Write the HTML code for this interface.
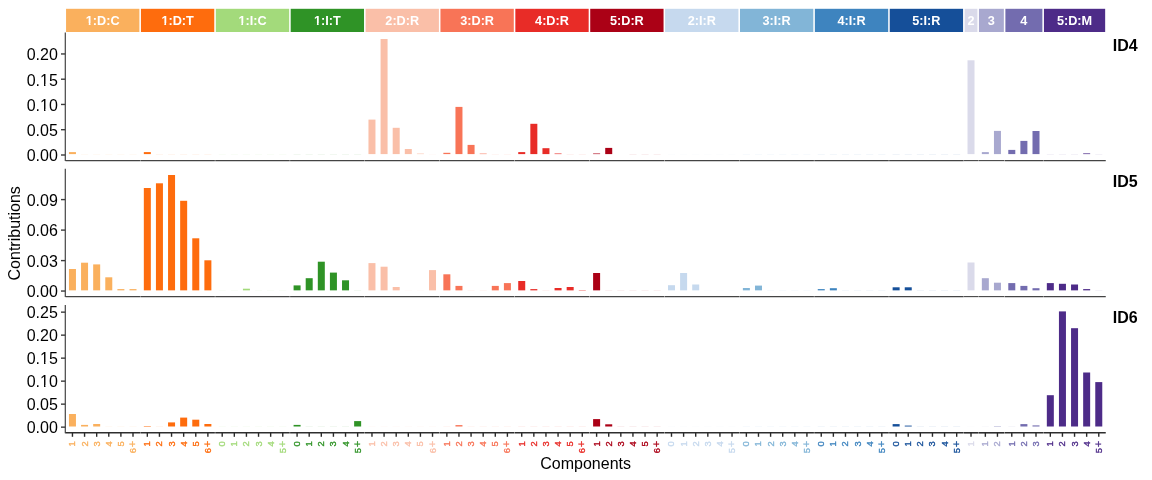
<!DOCTYPE html><html><head><meta charset="utf-8"><style>html,body{margin:0;padding:0;background:#fff;width:1152px;height:480px;overflow:hidden}svg{display:block;will-change:transform}text{font-family:"Liberation Sans",sans-serif}</style></head><body>
<svg width="1152" height="480" viewBox="0 0 1152 480">
<rect width="1152" height="480" fill="#fff"/>
<rect x="66.06" y="8.8" width="73.33" height="23.2" fill="#FAB05D"/>
<text x="102.72" y="24.6" fill="#fff" font-size="12.7" font-weight="bold" text-anchor="middle">1:D:C</text>
<rect x="85.99" y="23.00" width="2.76" height="2.30" fill="#FAB05D"/>
<rect x="90.50" y="23.00" width="2.60" height="2.30" fill="#FAB05D"/>
<rect x="140.94" y="8.8" width="73.33" height="23.2" fill="#FE6C0D"/>
<text x="177.60" y="24.6" fill="#fff" font-size="12.7" font-weight="bold" text-anchor="middle">1:D:T</text>
<rect x="161.58" y="23.00" width="2.76" height="2.30" fill="#FE6C0D"/>
<rect x="166.09" y="23.00" width="2.60" height="2.30" fill="#FE6C0D"/>
<rect x="215.82" y="8.8" width="73.33" height="23.2" fill="#A3DA7B"/>
<text x="252.48" y="24.6" fill="#fff" font-size="12.7" font-weight="bold" text-anchor="middle">1:I:C</text>
<rect x="238.57" y="23.00" width="2.76" height="2.30" fill="#A3DA7B"/>
<rect x="243.08" y="23.00" width="2.60" height="2.30" fill="#A3DA7B"/>
<rect x="290.70" y="8.8" width="73.33" height="23.2" fill="#2F9326"/>
<text x="327.37" y="24.6" fill="#fff" font-size="12.7" font-weight="bold" text-anchor="middle">1:I:T</text>
<rect x="314.16" y="23.00" width="2.76" height="2.30" fill="#2F9326"/>
<rect x="318.67" y="23.00" width="2.60" height="2.30" fill="#2F9326"/>
<rect x="365.58" y="8.8" width="73.33" height="23.2" fill="#FABFA8"/>
<text x="402.25" y="24.6" fill="#fff" font-size="12.7" font-weight="bold" text-anchor="middle">2:D:R</text>
<rect x="440.46" y="8.8" width="73.33" height="23.2" fill="#F87457"/>
<text x="477.12" y="24.6" fill="#fff" font-size="12.7" font-weight="bold" text-anchor="middle">3:D:R</text>
<rect x="515.34" y="8.8" width="73.33" height="23.2" fill="#E82C27"/>
<text x="552.00" y="24.6" fill="#fff" font-size="12.7" font-weight="bold" text-anchor="middle">4:D:R</text>
<rect x="590.22" y="8.8" width="73.33" height="23.2" fill="#AB0116"/>
<text x="626.88" y="24.6" fill="#fff" font-size="12.7" font-weight="bold" text-anchor="middle">5:D:R</text>
<rect x="665.10" y="8.8" width="73.33" height="23.2" fill="#C6D9EE"/>
<text x="701.76" y="24.6" fill="#fff" font-size="12.7" font-weight="bold" text-anchor="middle">2:I:R</text>
<rect x="739.98" y="8.8" width="73.33" height="23.2" fill="#82B5D7"/>
<text x="776.64" y="24.6" fill="#fff" font-size="12.7" font-weight="bold" text-anchor="middle">3:I:R</text>
<rect x="814.86" y="8.8" width="73.33" height="23.2" fill="#3E84BF"/>
<text x="851.52" y="24.6" fill="#fff" font-size="12.7" font-weight="bold" text-anchor="middle">4:I:R</text>
<rect x="889.74" y="8.8" width="73.33" height="23.2" fill="#154F99"/>
<text x="926.40" y="24.6" fill="#fff" font-size="12.7" font-weight="bold" text-anchor="middle">5:I:R</text>
<rect x="964.62" y="8.8" width="12.78" height="23.2" fill="#DADAEA"/>
<text x="971.01" y="24.6" fill="#fff" font-size="12.7" font-weight="bold" text-anchor="middle">2</text>
<rect x="978.95" y="8.8" width="24.89" height="23.2" fill="#A8A8CF"/>
<text x="991.39" y="24.6" fill="#fff" font-size="12.7" font-weight="bold" text-anchor="middle">3</text>
<rect x="1005.39" y="8.8" width="37.00" height="23.2" fill="#736CAF"/>
<text x="1023.89" y="24.6" fill="#fff" font-size="12.7" font-weight="bold" text-anchor="middle">4</text>
<rect x="1043.94" y="8.8" width="61.22" height="23.2" fill="#4D2B88"/>
<text x="1074.55" y="24.6" fill="#fff" font-size="12.7" font-weight="bold" text-anchor="middle">5:D:M</text>
<rect x="68.95" y="152.10" width="7.0" height="2.00" fill="#FAB05D"/>
<rect x="81.06" y="154.10" width="7.0" height="0.5" fill="#FAB05D" opacity="0.13"/>
<rect x="93.17" y="154.10" width="7.0" height="0.5" fill="#FAB05D" opacity="0.13"/>
<rect x="105.28" y="154.10" width="7.0" height="0.5" fill="#FAB05D" opacity="0.13"/>
<rect x="117.39" y="154.10" width="7.0" height="0.5" fill="#FAB05D" opacity="0.13"/>
<rect x="129.50" y="154.10" width="7.0" height="0.5" fill="#FAB05D" opacity="0.13"/>
<rect x="143.83" y="152.10" width="7.0" height="2.00" fill="#FE6C0D"/>
<rect x="155.94" y="154.10" width="7.0" height="0.5" fill="#FE6C0D" opacity="0.13"/>
<rect x="168.05" y="154.10" width="7.0" height="0.5" fill="#FE6C0D" opacity="0.13"/>
<rect x="180.16" y="154.10" width="7.0" height="0.5" fill="#FE6C0D" opacity="0.13"/>
<rect x="192.27" y="154.10" width="7.0" height="0.5" fill="#FE6C0D" opacity="0.13"/>
<rect x="204.38" y="154.10" width="7.0" height="0.5" fill="#FE6C0D" opacity="0.13"/>
<rect x="218.71" y="154.10" width="7.0" height="0.5" fill="#A3DA7B" opacity="0.13"/>
<rect x="230.82" y="154.10" width="7.0" height="0.5" fill="#A3DA7B" opacity="0.13"/>
<rect x="242.93" y="154.10" width="7.0" height="0.5" fill="#A3DA7B" opacity="0.13"/>
<rect x="255.04" y="154.10" width="7.0" height="0.5" fill="#A3DA7B" opacity="0.13"/>
<rect x="267.15" y="154.10" width="7.0" height="0.5" fill="#A3DA7B" opacity="0.13"/>
<rect x="279.26" y="154.10" width="7.0" height="0.5" fill="#A3DA7B" opacity="0.13"/>
<rect x="293.59" y="154.10" width="7.0" height="0.5" fill="#2F9326" opacity="0.13"/>
<rect x="305.70" y="154.10" width="7.0" height="0.5" fill="#2F9326" opacity="0.13"/>
<rect x="317.81" y="154.10" width="7.0" height="0.5" fill="#2F9326" opacity="0.13"/>
<rect x="329.92" y="154.10" width="7.0" height="0.5" fill="#2F9326" opacity="0.13"/>
<rect x="342.03" y="154.10" width="7.0" height="0.5" fill="#2F9326" opacity="0.13"/>
<rect x="354.14" y="154.10" width="7.0" height="0.5" fill="#2F9326" opacity="0.13"/>
<rect x="368.47" y="119.60" width="7.0" height="34.50" fill="#FABFA8"/>
<rect x="380.58" y="39.00" width="7.0" height="115.10" fill="#FABFA8"/>
<rect x="392.69" y="127.80" width="7.0" height="26.30" fill="#FABFA8"/>
<rect x="404.80" y="149.00" width="7.0" height="5.10" fill="#FABFA8"/>
<rect x="416.91" y="153.60" width="7.0" height="0.50" fill="#FABFA8"/>
<rect x="429.02" y="154.10" width="7.0" height="0.5" fill="#FABFA8" opacity="0.13"/>
<rect x="443.35" y="152.80" width="7.0" height="1.30" fill="#F87457"/>
<rect x="455.46" y="106.90" width="7.0" height="47.20" fill="#F87457"/>
<rect x="467.57" y="144.90" width="7.0" height="9.20" fill="#F87457"/>
<rect x="479.68" y="153.60" width="7.0" height="0.50" fill="#F87457"/>
<rect x="491.79" y="154.10" width="7.0" height="0.5" fill="#F87457" opacity="0.13"/>
<rect x="503.90" y="154.10" width="7.0" height="0.5" fill="#F87457" opacity="0.13"/>
<rect x="518.23" y="152.10" width="7.0" height="2.00" fill="#E82C27"/>
<rect x="530.34" y="123.80" width="7.0" height="30.30" fill="#E82C27"/>
<rect x="542.45" y="148.20" width="7.0" height="5.90" fill="#E82C27"/>
<rect x="554.56" y="153.50" width="7.0" height="0.60" fill="#E82C27"/>
<rect x="566.67" y="154.10" width="7.0" height="0.5" fill="#E82C27" opacity="0.13"/>
<rect x="578.78" y="154.10" width="7.0" height="0.5" fill="#E82C27" opacity="0.13"/>
<rect x="593.11" y="153.50" width="7.0" height="0.60" fill="#AB0116"/>
<rect x="605.22" y="147.90" width="7.0" height="6.20" fill="#AB0116"/>
<rect x="617.33" y="154.30" width="7.0" height="-0.20" fill="#AB0116"/>
<rect x="629.44" y="154.10" width="7.0" height="0.5" fill="#AB0116" opacity="0.13"/>
<rect x="641.55" y="154.10" width="7.0" height="0.5" fill="#AB0116" opacity="0.13"/>
<rect x="653.66" y="154.10" width="7.0" height="0.5" fill="#AB0116" opacity="0.13"/>
<rect x="667.99" y="154.10" width="7.0" height="0.5" fill="#C6D9EE" opacity="0.13"/>
<rect x="680.10" y="154.10" width="7.0" height="0.5" fill="#C6D9EE" opacity="0.13"/>
<rect x="692.21" y="154.10" width="7.0" height="0.5" fill="#C6D9EE" opacity="0.13"/>
<rect x="704.32" y="154.10" width="7.0" height="0.5" fill="#C6D9EE" opacity="0.13"/>
<rect x="716.43" y="154.10" width="7.0" height="0.5" fill="#C6D9EE" opacity="0.13"/>
<rect x="728.54" y="154.10" width="7.0" height="0.5" fill="#C6D9EE" opacity="0.13"/>
<rect x="742.87" y="154.10" width="7.0" height="0.5" fill="#82B5D7" opacity="0.13"/>
<rect x="754.98" y="154.10" width="7.0" height="0.5" fill="#82B5D7" opacity="0.13"/>
<rect x="767.09" y="154.10" width="7.0" height="0.5" fill="#82B5D7" opacity="0.13"/>
<rect x="779.20" y="154.10" width="7.0" height="0.5" fill="#82B5D7" opacity="0.13"/>
<rect x="791.31" y="154.10" width="7.0" height="0.5" fill="#82B5D7" opacity="0.13"/>
<rect x="803.42" y="154.10" width="7.0" height="0.5" fill="#82B5D7" opacity="0.13"/>
<rect x="817.75" y="154.10" width="7.0" height="0.5" fill="#3E84BF" opacity="0.13"/>
<rect x="829.86" y="154.10" width="7.0" height="0.5" fill="#3E84BF" opacity="0.13"/>
<rect x="841.97" y="154.10" width="7.0" height="0.5" fill="#3E84BF" opacity="0.13"/>
<rect x="854.08" y="154.10" width="7.0" height="0.5" fill="#3E84BF" opacity="0.13"/>
<rect x="866.19" y="154.10" width="7.0" height="0.5" fill="#3E84BF" opacity="0.13"/>
<rect x="878.30" y="154.10" width="7.0" height="0.5" fill="#3E84BF" opacity="0.13"/>
<rect x="892.63" y="154.10" width="7.0" height="0.5" fill="#154F99" opacity="0.13"/>
<rect x="904.74" y="154.10" width="7.0" height="0.5" fill="#154F99" opacity="0.13"/>
<rect x="916.85" y="154.10" width="7.0" height="0.5" fill="#154F99" opacity="0.13"/>
<rect x="928.96" y="154.10" width="7.0" height="0.5" fill="#154F99" opacity="0.13"/>
<rect x="941.07" y="154.10" width="7.0" height="0.5" fill="#154F99" opacity="0.13"/>
<rect x="953.18" y="154.10" width="7.0" height="0.5" fill="#154F99" opacity="0.13"/>
<rect x="967.51" y="60.30" width="7.0" height="93.80" fill="#DADAEA"/>
<rect x="981.84" y="152.10" width="7.0" height="2.00" fill="#A8A8CF"/>
<rect x="993.95" y="130.90" width="7.0" height="23.20" fill="#A8A8CF"/>
<rect x="1008.28" y="149.90" width="7.0" height="4.20" fill="#736CAF"/>
<rect x="1020.39" y="140.90" width="7.0" height="13.20" fill="#736CAF"/>
<rect x="1032.50" y="131.00" width="7.0" height="23.10" fill="#736CAF"/>
<rect x="1046.83" y="154.10" width="7.0" height="0.5" fill="#4D2B88" opacity="0.13"/>
<rect x="1058.94" y="154.10" width="7.0" height="0.5" fill="#4D2B88" opacity="0.13"/>
<rect x="1071.05" y="154.10" width="7.0" height="0.5" fill="#4D2B88" opacity="0.13"/>
<rect x="1083.16" y="153.40" width="7.0" height="0.70" fill="#4D2B88"/>
<rect x="1095.27" y="154.10" width="7.0" height="0.5" fill="#4D2B88" opacity="0.13"/>
<rect x="68.95" y="269.00" width="7.0" height="21.35" fill="#FAB05D"/>
<rect x="81.06" y="262.70" width="7.0" height="27.65" fill="#FAB05D"/>
<rect x="93.17" y="264.40" width="7.0" height="25.95" fill="#FAB05D"/>
<rect x="105.28" y="277.30" width="7.0" height="13.05" fill="#FAB05D"/>
<rect x="117.39" y="289.10" width="7.0" height="1.25" fill="#FAB05D"/>
<rect x="129.50" y="289.10" width="7.0" height="1.25" fill="#FAB05D"/>
<rect x="143.83" y="188.00" width="7.0" height="102.35" fill="#FE6C0D"/>
<rect x="155.94" y="183.30" width="7.0" height="107.05" fill="#FE6C0D"/>
<rect x="168.05" y="175.00" width="7.0" height="115.35" fill="#FE6C0D"/>
<rect x="180.16" y="200.80" width="7.0" height="89.55" fill="#FE6C0D"/>
<rect x="192.27" y="238.30" width="7.0" height="52.05" fill="#FE6C0D"/>
<rect x="204.38" y="260.30" width="7.0" height="30.05" fill="#FE6C0D"/>
<rect x="218.71" y="290.35" width="7.0" height="0.5" fill="#A3DA7B" opacity="0.13"/>
<rect x="230.82" y="290.35" width="7.0" height="0.5" fill="#A3DA7B" opacity="0.13"/>
<rect x="242.93" y="288.70" width="7.0" height="1.65" fill="#A3DA7B"/>
<rect x="255.04" y="290.35" width="7.0" height="0.5" fill="#A3DA7B" opacity="0.13"/>
<rect x="267.15" y="290.35" width="7.0" height="0.5" fill="#A3DA7B" opacity="0.13"/>
<rect x="279.26" y="290.35" width="7.0" height="0.5" fill="#A3DA7B" opacity="0.13"/>
<rect x="293.59" y="285.40" width="7.0" height="4.95" fill="#2F9326"/>
<rect x="305.70" y="278.20" width="7.0" height="12.15" fill="#2F9326"/>
<rect x="317.81" y="261.70" width="7.0" height="28.65" fill="#2F9326"/>
<rect x="329.92" y="272.60" width="7.0" height="17.75" fill="#2F9326"/>
<rect x="342.03" y="280.30" width="7.0" height="10.05" fill="#2F9326"/>
<rect x="354.14" y="290.35" width="7.0" height="0.5" fill="#2F9326" opacity="0.13"/>
<rect x="368.47" y="263.10" width="7.0" height="27.25" fill="#FABFA8"/>
<rect x="380.58" y="266.70" width="7.0" height="23.65" fill="#FABFA8"/>
<rect x="392.69" y="287.00" width="7.0" height="3.35" fill="#FABFA8"/>
<rect x="404.80" y="290.35" width="7.0" height="0.5" fill="#FABFA8" opacity="0.13"/>
<rect x="416.91" y="290.35" width="7.0" height="0.5" fill="#FABFA8" opacity="0.13"/>
<rect x="429.02" y="270.10" width="7.0" height="20.25" fill="#FABFA8"/>
<rect x="443.35" y="274.30" width="7.0" height="16.05" fill="#F87457"/>
<rect x="455.46" y="285.90" width="7.0" height="4.45" fill="#F87457"/>
<rect x="467.57" y="290.35" width="7.0" height="0.5" fill="#F87457" opacity="0.13"/>
<rect x="479.68" y="290.35" width="7.0" height="0.5" fill="#F87457" opacity="0.13"/>
<rect x="491.79" y="285.90" width="7.0" height="4.45" fill="#F87457"/>
<rect x="503.90" y="283.10" width="7.0" height="7.25" fill="#F87457"/>
<rect x="518.23" y="281.00" width="7.0" height="9.35" fill="#E82C27"/>
<rect x="530.34" y="289.10" width="7.0" height="1.25" fill="#E82C27"/>
<rect x="542.45" y="290.35" width="7.0" height="0.5" fill="#E82C27" opacity="0.13"/>
<rect x="554.56" y="288.00" width="7.0" height="2.35" fill="#E82C27"/>
<rect x="566.67" y="287.00" width="7.0" height="3.35" fill="#E82C27"/>
<rect x="578.78" y="290.00" width="7.0" height="0.35" fill="#E82C27"/>
<rect x="593.11" y="273.00" width="7.0" height="17.35" fill="#AB0116"/>
<rect x="605.22" y="290.35" width="7.0" height="0.5" fill="#AB0116" opacity="0.13"/>
<rect x="617.33" y="290.35" width="7.0" height="0.5" fill="#AB0116" opacity="0.13"/>
<rect x="629.44" y="290.35" width="7.0" height="0.5" fill="#AB0116" opacity="0.13"/>
<rect x="641.55" y="290.35" width="7.0" height="0.5" fill="#AB0116" opacity="0.13"/>
<rect x="653.66" y="290.35" width="7.0" height="0.5" fill="#AB0116" opacity="0.13"/>
<rect x="667.99" y="285.20" width="7.0" height="5.15" fill="#C6D9EE"/>
<rect x="680.10" y="273.00" width="7.0" height="17.35" fill="#C6D9EE"/>
<rect x="692.21" y="284.50" width="7.0" height="5.85" fill="#C6D9EE"/>
<rect x="704.32" y="290.35" width="7.0" height="0.5" fill="#C6D9EE" opacity="0.13"/>
<rect x="716.43" y="290.35" width="7.0" height="0.5" fill="#C6D9EE" opacity="0.13"/>
<rect x="728.54" y="290.35" width="7.0" height="0.5" fill="#C6D9EE" opacity="0.13"/>
<rect x="742.87" y="288.00" width="7.0" height="2.35" fill="#82B5D7"/>
<rect x="754.98" y="285.60" width="7.0" height="4.75" fill="#82B5D7"/>
<rect x="767.09" y="290.35" width="7.0" height="0.5" fill="#82B5D7" opacity="0.13"/>
<rect x="779.20" y="290.35" width="7.0" height="0.5" fill="#82B5D7" opacity="0.13"/>
<rect x="791.31" y="290.35" width="7.0" height="0.5" fill="#82B5D7" opacity="0.13"/>
<rect x="803.42" y="290.35" width="7.0" height="0.5" fill="#82B5D7" opacity="0.13"/>
<rect x="817.75" y="289.10" width="7.0" height="1.25" fill="#3E84BF"/>
<rect x="829.86" y="288.20" width="7.0" height="2.15" fill="#3E84BF"/>
<rect x="841.97" y="290.35" width="7.0" height="0.5" fill="#3E84BF" opacity="0.13"/>
<rect x="854.08" y="290.35" width="7.0" height="0.5" fill="#3E84BF" opacity="0.13"/>
<rect x="866.19" y="290.35" width="7.0" height="0.5" fill="#3E84BF" opacity="0.13"/>
<rect x="878.30" y="290.35" width="7.0" height="0.5" fill="#3E84BF" opacity="0.13"/>
<rect x="892.63" y="287.30" width="7.0" height="3.05" fill="#154F99"/>
<rect x="904.74" y="287.30" width="7.0" height="3.05" fill="#154F99"/>
<rect x="916.85" y="290.35" width="7.0" height="0.5" fill="#154F99" opacity="0.13"/>
<rect x="928.96" y="290.35" width="7.0" height="0.5" fill="#154F99" opacity="0.13"/>
<rect x="941.07" y="290.35" width="7.0" height="0.5" fill="#154F99" opacity="0.13"/>
<rect x="953.18" y="290.35" width="7.0" height="0.5" fill="#154F99" opacity="0.13"/>
<rect x="967.51" y="262.50" width="7.0" height="27.85" fill="#DADAEA"/>
<rect x="981.84" y="278.20" width="7.0" height="12.15" fill="#A8A8CF"/>
<rect x="993.95" y="282.70" width="7.0" height="7.65" fill="#A8A8CF"/>
<rect x="1008.28" y="283.10" width="7.0" height="7.25" fill="#736CAF"/>
<rect x="1020.39" y="285.90" width="7.0" height="4.45" fill="#736CAF"/>
<rect x="1032.50" y="288.20" width="7.0" height="2.15" fill="#736CAF"/>
<rect x="1046.83" y="283.10" width="7.0" height="7.25" fill="#4D2B88"/>
<rect x="1058.94" y="283.80" width="7.0" height="6.55" fill="#4D2B88"/>
<rect x="1071.05" y="284.50" width="7.0" height="5.85" fill="#4D2B88"/>
<rect x="1083.16" y="289.10" width="7.0" height="1.25" fill="#4D2B88"/>
<rect x="1095.27" y="290.35" width="7.0" height="0.5" fill="#4D2B88" opacity="0.13"/>
<rect x="68.95" y="414.00" width="7.0" height="12.50" fill="#FAB05D"/>
<rect x="81.06" y="424.90" width="7.0" height="1.60" fill="#FAB05D"/>
<rect x="93.17" y="424.00" width="7.0" height="2.50" fill="#FAB05D"/>
<rect x="105.28" y="426.50" width="7.0" height="0.5" fill="#FAB05D" opacity="0.13"/>
<rect x="117.39" y="426.50" width="7.0" height="0.5" fill="#FAB05D" opacity="0.13"/>
<rect x="129.50" y="426.50" width="7.0" height="0.5" fill="#FAB05D" opacity="0.13"/>
<rect x="143.83" y="426.00" width="7.0" height="0.50" fill="#FE6C0D"/>
<rect x="155.94" y="426.50" width="7.0" height="0.5" fill="#FE6C0D" opacity="0.13"/>
<rect x="168.05" y="422.40" width="7.0" height="4.10" fill="#FE6C0D"/>
<rect x="180.16" y="417.60" width="7.0" height="8.90" fill="#FE6C0D"/>
<rect x="192.27" y="419.70" width="7.0" height="6.80" fill="#FE6C0D"/>
<rect x="204.38" y="424.00" width="7.0" height="2.50" fill="#FE6C0D"/>
<rect x="218.71" y="426.50" width="7.0" height="0.5" fill="#A3DA7B" opacity="0.13"/>
<rect x="230.82" y="426.50" width="7.0" height="0.5" fill="#A3DA7B" opacity="0.13"/>
<rect x="242.93" y="426.50" width="7.0" height="0.5" fill="#A3DA7B" opacity="0.13"/>
<rect x="255.04" y="426.50" width="7.0" height="0.5" fill="#A3DA7B" opacity="0.13"/>
<rect x="267.15" y="426.50" width="7.0" height="0.5" fill="#A3DA7B" opacity="0.13"/>
<rect x="279.26" y="426.50" width="7.0" height="0.5" fill="#A3DA7B" opacity="0.13"/>
<rect x="293.59" y="424.90" width="7.0" height="1.60" fill="#2F9326"/>
<rect x="305.70" y="426.50" width="7.0" height="0.5" fill="#2F9326" opacity="0.13"/>
<rect x="317.81" y="426.50" width="7.0" height="0.5" fill="#2F9326" opacity="0.13"/>
<rect x="329.92" y="426.50" width="7.0" height="0.5" fill="#2F9326" opacity="0.13"/>
<rect x="342.03" y="426.50" width="7.0" height="0.5" fill="#2F9326" opacity="0.13"/>
<rect x="354.14" y="421.10" width="7.0" height="5.40" fill="#2F9326"/>
<rect x="368.47" y="426.50" width="7.0" height="0.5" fill="#FABFA8" opacity="0.13"/>
<rect x="380.58" y="426.50" width="7.0" height="0.5" fill="#FABFA8" opacity="0.13"/>
<rect x="392.69" y="426.50" width="7.0" height="0.5" fill="#FABFA8" opacity="0.13"/>
<rect x="404.80" y="426.50" width="7.0" height="0.5" fill="#FABFA8" opacity="0.13"/>
<rect x="416.91" y="426.50" width="7.0" height="0.5" fill="#FABFA8" opacity="0.13"/>
<rect x="429.02" y="426.50" width="7.0" height="0.5" fill="#FABFA8" opacity="0.13"/>
<rect x="443.35" y="426.50" width="7.0" height="0.5" fill="#F87457" opacity="0.13"/>
<rect x="455.46" y="425.10" width="7.0" height="1.40" fill="#F87457"/>
<rect x="467.57" y="426.50" width="7.0" height="0.5" fill="#F87457" opacity="0.13"/>
<rect x="479.68" y="426.50" width="7.0" height="0.5" fill="#F87457" opacity="0.13"/>
<rect x="491.79" y="426.50" width="7.0" height="0.5" fill="#F87457" opacity="0.13"/>
<rect x="503.90" y="426.50" width="7.0" height="0.5" fill="#F87457" opacity="0.13"/>
<rect x="518.23" y="426.50" width="7.0" height="0.5" fill="#E82C27" opacity="0.13"/>
<rect x="530.34" y="426.50" width="7.0" height="0.5" fill="#E82C27" opacity="0.13"/>
<rect x="542.45" y="426.50" width="7.0" height="0.5" fill="#E82C27" opacity="0.13"/>
<rect x="554.56" y="426.50" width="7.0" height="0.5" fill="#E82C27" opacity="0.13"/>
<rect x="566.67" y="426.50" width="7.0" height="0.5" fill="#E82C27" opacity="0.13"/>
<rect x="578.78" y="426.50" width="7.0" height="0.5" fill="#E82C27" opacity="0.13"/>
<rect x="593.11" y="419.10" width="7.0" height="7.40" fill="#AB0116"/>
<rect x="605.22" y="424.30" width="7.0" height="2.20" fill="#AB0116"/>
<rect x="617.33" y="426.50" width="7.0" height="0.5" fill="#AB0116" opacity="0.13"/>
<rect x="629.44" y="426.50" width="7.0" height="0.5" fill="#AB0116" opacity="0.13"/>
<rect x="641.55" y="426.50" width="7.0" height="0.5" fill="#AB0116" opacity="0.13"/>
<rect x="653.66" y="426.50" width="7.0" height="0.5" fill="#AB0116" opacity="0.13"/>
<rect x="667.99" y="426.50" width="7.0" height="0.5" fill="#C6D9EE" opacity="0.13"/>
<rect x="680.10" y="426.50" width="7.0" height="0.5" fill="#C6D9EE" opacity="0.13"/>
<rect x="692.21" y="426.50" width="7.0" height="0.5" fill="#C6D9EE" opacity="0.13"/>
<rect x="704.32" y="426.50" width="7.0" height="0.5" fill="#C6D9EE" opacity="0.13"/>
<rect x="716.43" y="426.50" width="7.0" height="0.5" fill="#C6D9EE" opacity="0.13"/>
<rect x="728.54" y="426.50" width="7.0" height="0.5" fill="#C6D9EE" opacity="0.13"/>
<rect x="742.87" y="426.50" width="7.0" height="0.5" fill="#82B5D7" opacity="0.13"/>
<rect x="754.98" y="426.50" width="7.0" height="0.5" fill="#82B5D7" opacity="0.13"/>
<rect x="767.09" y="426.50" width="7.0" height="0.5" fill="#82B5D7" opacity="0.13"/>
<rect x="779.20" y="426.50" width="7.0" height="0.5" fill="#82B5D7" opacity="0.13"/>
<rect x="791.31" y="426.50" width="7.0" height="0.5" fill="#82B5D7" opacity="0.13"/>
<rect x="803.42" y="426.50" width="7.0" height="0.5" fill="#82B5D7" opacity="0.13"/>
<rect x="817.75" y="426.50" width="7.0" height="0.5" fill="#3E84BF" opacity="0.13"/>
<rect x="829.86" y="426.50" width="7.0" height="0.5" fill="#3E84BF" opacity="0.13"/>
<rect x="841.97" y="426.50" width="7.0" height="0.5" fill="#3E84BF" opacity="0.13"/>
<rect x="854.08" y="426.50" width="7.0" height="0.5" fill="#3E84BF" opacity="0.13"/>
<rect x="866.19" y="426.50" width="7.0" height="0.5" fill="#3E84BF" opacity="0.13"/>
<rect x="878.30" y="426.50" width="7.0" height="0.5" fill="#3E84BF" opacity="0.13"/>
<rect x="892.63" y="424.10" width="7.0" height="2.40" fill="#154F99"/>
<rect x="904.74" y="425.60" width="7.0" height="0.90" fill="#154F99"/>
<rect x="916.85" y="426.50" width="7.0" height="0.5" fill="#154F99" opacity="0.13"/>
<rect x="928.96" y="426.50" width="7.0" height="0.5" fill="#154F99" opacity="0.13"/>
<rect x="941.07" y="426.50" width="7.0" height="0.5" fill="#154F99" opacity="0.13"/>
<rect x="953.18" y="426.50" width="7.0" height="0.5" fill="#154F99" opacity="0.13"/>
<rect x="967.51" y="426.50" width="7.0" height="0.5" fill="#DADAEA" opacity="0.13"/>
<rect x="981.84" y="426.50" width="7.0" height="0.5" fill="#A8A8CF" opacity="0.13"/>
<rect x="993.95" y="426.00" width="7.0" height="0.50" fill="#A8A8CF"/>
<rect x="1008.28" y="426.50" width="7.0" height="0.5" fill="#736CAF" opacity="0.13"/>
<rect x="1020.39" y="424.10" width="7.0" height="2.40" fill="#736CAF"/>
<rect x="1032.50" y="425.40" width="7.0" height="1.10" fill="#736CAF"/>
<rect x="1046.83" y="395.20" width="7.0" height="31.30" fill="#4D2B88"/>
<rect x="1058.94" y="311.40" width="7.0" height="115.10" fill="#4D2B88"/>
<rect x="1071.05" y="328.20" width="7.0" height="98.30" fill="#4D2B88"/>
<rect x="1083.16" y="372.50" width="7.0" height="54.00" fill="#4D2B88"/>
<rect x="1095.27" y="382.10" width="7.0" height="44.40" fill="#4D2B88"/>
<line x1="65.3" y1="32.6" x2="65.3" y2="161.1" stroke="#444" stroke-width="1.2"/>
<line x1="65.46" y1="160.60" x2="139.99" y2="160.60" stroke="#444" stroke-width="1.1"/>
<line x1="140.34" y1="160.60" x2="214.87" y2="160.60" stroke="#444" stroke-width="1.1"/>
<line x1="215.22" y1="160.60" x2="289.75" y2="160.60" stroke="#444" stroke-width="1.1"/>
<line x1="290.10" y1="160.60" x2="364.63" y2="160.60" stroke="#444" stroke-width="1.1"/>
<line x1="364.98" y1="160.60" x2="439.51" y2="160.60" stroke="#444" stroke-width="1.1"/>
<line x1="439.86" y1="160.60" x2="514.39" y2="160.60" stroke="#444" stroke-width="1.1"/>
<line x1="514.74" y1="160.60" x2="589.27" y2="160.60" stroke="#444" stroke-width="1.1"/>
<line x1="589.62" y1="160.60" x2="664.15" y2="160.60" stroke="#444" stroke-width="1.1"/>
<line x1="664.50" y1="160.60" x2="739.03" y2="160.60" stroke="#444" stroke-width="1.1"/>
<line x1="739.38" y1="160.60" x2="813.91" y2="160.60" stroke="#444" stroke-width="1.1"/>
<line x1="814.26" y1="160.60" x2="888.79" y2="160.60" stroke="#444" stroke-width="1.1"/>
<line x1="889.14" y1="160.60" x2="963.67" y2="160.60" stroke="#444" stroke-width="1.1"/>
<line x1="964.02" y1="160.60" x2="978.00" y2="160.60" stroke="#444" stroke-width="1.1"/>
<line x1="978.35" y1="160.60" x2="1004.44" y2="160.60" stroke="#444" stroke-width="1.1"/>
<line x1="1004.79" y1="160.60" x2="1042.99" y2="160.60" stroke="#444" stroke-width="1.1"/>
<line x1="1043.34" y1="160.60" x2="1105.76" y2="160.60" stroke="#444" stroke-width="1.1"/>
<line x1="61" y1="155.0" x2="65.3" y2="155.0" stroke="#3c3c3c" stroke-width="1.4"/>
<text x="57.8" y="161.40" fill="#000" font-size="16" text-anchor="end">0.00</text>
<line x1="61" y1="129.7" x2="65.3" y2="129.7" stroke="#3c3c3c" stroke-width="1.4"/>
<text x="57.8" y="136.10" fill="#000" font-size="16" text-anchor="end">0.05</text>
<line x1="61" y1="104.45" x2="65.3" y2="104.45" stroke="#3c3c3c" stroke-width="1.4"/>
<text x="57.8" y="110.85" fill="#000" font-size="16" text-anchor="end">0.10</text>
<rect x="40.62" y="109.00" width="3.40" height="2.30" fill="#fff"/>
<rect x="45.44" y="109.00" width="3.28" height="2.30" fill="#fff"/>
<line x1="61" y1="79.2" x2="65.3" y2="79.2" stroke="#3c3c3c" stroke-width="1.4"/>
<text x="57.8" y="85.60" fill="#000" font-size="16" text-anchor="end">0.15</text>
<rect x="40.62" y="84.00" width="3.40" height="2.30" fill="#fff"/>
<rect x="45.44" y="84.00" width="3.28" height="2.30" fill="#fff"/>
<line x1="61" y1="53.95" x2="65.3" y2="53.95" stroke="#3c3c3c" stroke-width="1.4"/>
<text x="57.8" y="60.35" fill="#000" font-size="16" text-anchor="end">0.20</text>
<text x="1112.8" y="50.80" fill="#000" font-size="16" font-weight="bold">ID4</text>
<line x1="65.3" y1="168.75" x2="65.3" y2="297.1" stroke="#444" stroke-width="1.2"/>
<line x1="65.46" y1="296.60" x2="139.99" y2="296.60" stroke="#444" stroke-width="1.1"/>
<line x1="140.34" y1="296.60" x2="214.87" y2="296.60" stroke="#444" stroke-width="1.1"/>
<line x1="215.22" y1="296.60" x2="289.75" y2="296.60" stroke="#444" stroke-width="1.1"/>
<line x1="290.10" y1="296.60" x2="364.63" y2="296.60" stroke="#444" stroke-width="1.1"/>
<line x1="364.98" y1="296.60" x2="439.51" y2="296.60" stroke="#444" stroke-width="1.1"/>
<line x1="439.86" y1="296.60" x2="514.39" y2="296.60" stroke="#444" stroke-width="1.1"/>
<line x1="514.74" y1="296.60" x2="589.27" y2="296.60" stroke="#444" stroke-width="1.1"/>
<line x1="589.62" y1="296.60" x2="664.15" y2="296.60" stroke="#444" stroke-width="1.1"/>
<line x1="664.50" y1="296.60" x2="739.03" y2="296.60" stroke="#444" stroke-width="1.1"/>
<line x1="739.38" y1="296.60" x2="813.91" y2="296.60" stroke="#444" stroke-width="1.1"/>
<line x1="814.26" y1="296.60" x2="888.79" y2="296.60" stroke="#444" stroke-width="1.1"/>
<line x1="889.14" y1="296.60" x2="963.67" y2="296.60" stroke="#444" stroke-width="1.1"/>
<line x1="964.02" y1="296.60" x2="978.00" y2="296.60" stroke="#444" stroke-width="1.1"/>
<line x1="978.35" y1="296.60" x2="1004.44" y2="296.60" stroke="#444" stroke-width="1.1"/>
<line x1="1004.79" y1="296.60" x2="1042.99" y2="296.60" stroke="#444" stroke-width="1.1"/>
<line x1="1043.34" y1="296.60" x2="1105.76" y2="296.60" stroke="#444" stroke-width="1.1"/>
<line x1="61" y1="291.05" x2="65.3" y2="291.05" stroke="#3c3c3c" stroke-width="1.4"/>
<text x="57.8" y="297.25" fill="#000" font-size="16" text-anchor="end">0.00</text>
<line x1="61" y1="260.6" x2="65.3" y2="260.6" stroke="#3c3c3c" stroke-width="1.4"/>
<text x="57.8" y="266.80" fill="#000" font-size="16" text-anchor="end">0.03</text>
<line x1="61" y1="230.1" x2="65.3" y2="230.1" stroke="#3c3c3c" stroke-width="1.4"/>
<text x="57.8" y="236.30" fill="#000" font-size="16" text-anchor="end">0.06</text>
<line x1="61" y1="199.6" x2="65.3" y2="199.6" stroke="#3c3c3c" stroke-width="1.4"/>
<text x="57.8" y="205.80" fill="#000" font-size="16" text-anchor="end">0.09</text>
<text x="1112.8" y="186.95" fill="#000" font-size="16" font-weight="bold">ID5</text>
<line x1="65.3" y1="305.0" x2="65.3" y2="433.3" stroke="#444" stroke-width="1.2"/>
<line x1="65.46" y1="432.80" x2="139.99" y2="432.80" stroke="#2e2e2e" stroke-width="1.6"/>
<line x1="140.34" y1="432.80" x2="214.87" y2="432.80" stroke="#2e2e2e" stroke-width="1.6"/>
<line x1="215.22" y1="432.80" x2="289.75" y2="432.80" stroke="#2e2e2e" stroke-width="1.6"/>
<line x1="290.10" y1="432.80" x2="364.63" y2="432.80" stroke="#2e2e2e" stroke-width="1.6"/>
<line x1="364.98" y1="432.80" x2="439.51" y2="432.80" stroke="#2e2e2e" stroke-width="1.6"/>
<line x1="439.86" y1="432.80" x2="514.39" y2="432.80" stroke="#2e2e2e" stroke-width="1.6"/>
<line x1="514.74" y1="432.80" x2="589.27" y2="432.80" stroke="#2e2e2e" stroke-width="1.6"/>
<line x1="589.62" y1="432.80" x2="664.15" y2="432.80" stroke="#2e2e2e" stroke-width="1.6"/>
<line x1="664.50" y1="432.80" x2="739.03" y2="432.80" stroke="#2e2e2e" stroke-width="1.6"/>
<line x1="739.38" y1="432.80" x2="813.91" y2="432.80" stroke="#2e2e2e" stroke-width="1.6"/>
<line x1="814.26" y1="432.80" x2="888.79" y2="432.80" stroke="#2e2e2e" stroke-width="1.6"/>
<line x1="889.14" y1="432.80" x2="963.67" y2="432.80" stroke="#2e2e2e" stroke-width="1.6"/>
<line x1="964.02" y1="432.80" x2="978.00" y2="432.80" stroke="#2e2e2e" stroke-width="1.6"/>
<line x1="978.35" y1="432.80" x2="1004.44" y2="432.80" stroke="#2e2e2e" stroke-width="1.6"/>
<line x1="1004.79" y1="432.80" x2="1042.99" y2="432.80" stroke="#2e2e2e" stroke-width="1.6"/>
<line x1="1043.34" y1="432.80" x2="1105.76" y2="432.80" stroke="#2e2e2e" stroke-width="1.6"/>
<line x1="61" y1="427.15" x2="65.3" y2="427.15" stroke="#3c3c3c" stroke-width="1.4"/>
<text x="57.8" y="433.45" fill="#000" font-size="16" text-anchor="end">0.00</text>
<line x1="61" y1="404.15" x2="65.3" y2="404.15" stroke="#3c3c3c" stroke-width="1.4"/>
<text x="57.8" y="410.45" fill="#000" font-size="16" text-anchor="end">0.05</text>
<line x1="61" y1="381.15" x2="65.3" y2="381.15" stroke="#3c3c3c" stroke-width="1.4"/>
<text x="57.8" y="387.45" fill="#000" font-size="16" text-anchor="end">0.10</text>
<rect x="40.62" y="385.00" width="3.40" height="2.30" fill="#fff"/>
<rect x="45.44" y="385.00" width="3.28" height="2.30" fill="#fff"/>
<line x1="61" y1="358.15" x2="65.3" y2="358.15" stroke="#3c3c3c" stroke-width="1.4"/>
<text x="57.8" y="364.45" fill="#000" font-size="16" text-anchor="end">0.15</text>
<rect x="40.62" y="362.00" width="3.40" height="2.30" fill="#fff"/>
<rect x="45.44" y="362.00" width="3.28" height="2.30" fill="#fff"/>
<line x1="61" y1="335.15" x2="65.3" y2="335.15" stroke="#3c3c3c" stroke-width="1.4"/>
<text x="57.8" y="341.45" fill="#000" font-size="16" text-anchor="end">0.20</text>
<line x1="61" y1="312.15" x2="65.3" y2="312.15" stroke="#3c3c3c" stroke-width="1.4"/>
<text x="57.8" y="318.45" fill="#000" font-size="16" text-anchor="end">0.25</text>
<text x="1112.8" y="323.20" fill="#000" font-size="16" font-weight="bold">ID6</text>
<line x1="72.45" y1="432.6" x2="72.45" y2="436.8" stroke="#2a2a2a" stroke-width="1.4"/>
<text transform="translate(75.45,441.4) rotate(-90) scale(1,1.0)" fill="#FAB05D" stroke="#FAB05D" stroke-width="0.35" font-size="9.3" text-anchor="end">1</text>
<line x1="84.56" y1="432.6" x2="84.56" y2="436.8" stroke="#2a2a2a" stroke-width="1.4"/>
<text transform="translate(87.56,441.4) rotate(-90) scale(1,1.0)" fill="#FAB05D" stroke="#FAB05D" stroke-width="0.35" font-size="9.3" text-anchor="end">2</text>
<line x1="96.67" y1="432.6" x2="96.67" y2="436.8" stroke="#2a2a2a" stroke-width="1.4"/>
<text transform="translate(99.67,441.4) rotate(-90) scale(1,1.0)" fill="#FAB05D" stroke="#FAB05D" stroke-width="0.35" font-size="9.3" text-anchor="end">3</text>
<line x1="108.78" y1="432.6" x2="108.78" y2="436.8" stroke="#2a2a2a" stroke-width="1.4"/>
<text transform="translate(111.78,441.4) rotate(-90) scale(1,1.0)" fill="#FAB05D" stroke="#FAB05D" stroke-width="0.35" font-size="9.3" text-anchor="end">4</text>
<line x1="120.89" y1="432.6" x2="120.89" y2="436.8" stroke="#2a2a2a" stroke-width="1.4"/>
<text transform="translate(123.89,441.4) rotate(-90) scale(1,1.0)" fill="#FAB05D" stroke="#FAB05D" stroke-width="0.35" font-size="9.3" text-anchor="end">5</text>
<line x1="133.00" y1="432.6" x2="133.00" y2="436.8" stroke="#2a2a2a" stroke-width="1.4"/>
<text transform="translate(136.00,441.0) rotate(-90) scale(1,1.0)" fill="#FAB05D" stroke="#FAB05D" stroke-width="0.35" font-size="10.2" text-anchor="end">+</text>
<text transform="translate(136.00,448.0) rotate(-90) scale(1,1.0)" fill="#FAB05D" stroke="#FAB05D" stroke-width="0.35" font-size="9.3" text-anchor="end">6</text>
<line x1="147.33" y1="432.6" x2="147.33" y2="436.8" stroke="#2a2a2a" stroke-width="1.4"/>
<text transform="translate(150.33,441.4) rotate(-90) scale(1,1.0)" fill="#FE6C0D" stroke="#FE6C0D" stroke-width="0.35" font-size="9.3" text-anchor="end">1</text>
<line x1="159.44" y1="432.6" x2="159.44" y2="436.8" stroke="#2a2a2a" stroke-width="1.4"/>
<text transform="translate(162.44,441.4) rotate(-90) scale(1,1.0)" fill="#FE6C0D" stroke="#FE6C0D" stroke-width="0.35" font-size="9.3" text-anchor="end">2</text>
<line x1="171.55" y1="432.6" x2="171.55" y2="436.8" stroke="#2a2a2a" stroke-width="1.4"/>
<text transform="translate(174.55,441.4) rotate(-90) scale(1,1.0)" fill="#FE6C0D" stroke="#FE6C0D" stroke-width="0.35" font-size="9.3" text-anchor="end">3</text>
<line x1="183.66" y1="432.6" x2="183.66" y2="436.8" stroke="#2a2a2a" stroke-width="1.4"/>
<text transform="translate(186.66,441.4) rotate(-90) scale(1,1.0)" fill="#FE6C0D" stroke="#FE6C0D" stroke-width="0.35" font-size="9.3" text-anchor="end">4</text>
<line x1="195.77" y1="432.6" x2="195.77" y2="436.8" stroke="#2a2a2a" stroke-width="1.4"/>
<text transform="translate(198.77,441.4) rotate(-90) scale(1,1.0)" fill="#FE6C0D" stroke="#FE6C0D" stroke-width="0.35" font-size="9.3" text-anchor="end">5</text>
<line x1="207.88" y1="432.6" x2="207.88" y2="436.8" stroke="#2a2a2a" stroke-width="1.4"/>
<text transform="translate(210.88,441.0) rotate(-90) scale(1,1.0)" fill="#FE6C0D" stroke="#FE6C0D" stroke-width="0.35" font-size="10.2" text-anchor="end">+</text>
<text transform="translate(210.88,448.0) rotate(-90) scale(1,1.0)" fill="#FE6C0D" stroke="#FE6C0D" stroke-width="0.35" font-size="9.3" text-anchor="end">6</text>
<line x1="222.21" y1="432.6" x2="222.21" y2="436.8" stroke="#2a2a2a" stroke-width="1.4"/>
<text transform="translate(225.21,441.4) rotate(-90) scale(1,1.0)" fill="#A3DA7B" stroke="#A3DA7B" stroke-width="0.35" font-size="9.3" text-anchor="end">0</text>
<line x1="234.32" y1="432.6" x2="234.32" y2="436.8" stroke="#2a2a2a" stroke-width="1.4"/>
<text transform="translate(237.32,441.4) rotate(-90) scale(1,1.0)" fill="#A3DA7B" stroke="#A3DA7B" stroke-width="0.35" font-size="9.3" text-anchor="end">1</text>
<line x1="246.43" y1="432.6" x2="246.43" y2="436.8" stroke="#2a2a2a" stroke-width="1.4"/>
<text transform="translate(249.43,441.4) rotate(-90) scale(1,1.0)" fill="#A3DA7B" stroke="#A3DA7B" stroke-width="0.35" font-size="9.3" text-anchor="end">2</text>
<line x1="258.54" y1="432.6" x2="258.54" y2="436.8" stroke="#2a2a2a" stroke-width="1.4"/>
<text transform="translate(261.54,441.4) rotate(-90) scale(1,1.0)" fill="#A3DA7B" stroke="#A3DA7B" stroke-width="0.35" font-size="9.3" text-anchor="end">3</text>
<line x1="270.65" y1="432.6" x2="270.65" y2="436.8" stroke="#2a2a2a" stroke-width="1.4"/>
<text transform="translate(273.65,441.4) rotate(-90) scale(1,1.0)" fill="#A3DA7B" stroke="#A3DA7B" stroke-width="0.35" font-size="9.3" text-anchor="end">4</text>
<line x1="282.76" y1="432.6" x2="282.76" y2="436.8" stroke="#2a2a2a" stroke-width="1.4"/>
<text transform="translate(285.76,441.0) rotate(-90) scale(1,1.0)" fill="#A3DA7B" stroke="#A3DA7B" stroke-width="0.35" font-size="10.2" text-anchor="end">+</text>
<text transform="translate(285.76,448.0) rotate(-90) scale(1,1.0)" fill="#A3DA7B" stroke="#A3DA7B" stroke-width="0.35" font-size="9.3" text-anchor="end">5</text>
<line x1="297.09" y1="432.6" x2="297.09" y2="436.8" stroke="#2a2a2a" stroke-width="1.4"/>
<text transform="translate(300.09,441.4) rotate(-90) scale(1,1.0)" fill="#2F9326" stroke="#2F9326" stroke-width="0.35" font-size="9.3" text-anchor="end">0</text>
<line x1="309.20" y1="432.6" x2="309.20" y2="436.8" stroke="#2a2a2a" stroke-width="1.4"/>
<text transform="translate(312.20,441.4) rotate(-90) scale(1,1.0)" fill="#2F9326" stroke="#2F9326" stroke-width="0.35" font-size="9.3" text-anchor="end">1</text>
<line x1="321.31" y1="432.6" x2="321.31" y2="436.8" stroke="#2a2a2a" stroke-width="1.4"/>
<text transform="translate(324.31,441.4) rotate(-90) scale(1,1.0)" fill="#2F9326" stroke="#2F9326" stroke-width="0.35" font-size="9.3" text-anchor="end">2</text>
<line x1="333.42" y1="432.6" x2="333.42" y2="436.8" stroke="#2a2a2a" stroke-width="1.4"/>
<text transform="translate(336.42,441.4) rotate(-90) scale(1,1.0)" fill="#2F9326" stroke="#2F9326" stroke-width="0.35" font-size="9.3" text-anchor="end">3</text>
<line x1="345.53" y1="432.6" x2="345.53" y2="436.8" stroke="#2a2a2a" stroke-width="1.4"/>
<text transform="translate(348.53,441.4) rotate(-90) scale(1,1.0)" fill="#2F9326" stroke="#2F9326" stroke-width="0.35" font-size="9.3" text-anchor="end">4</text>
<line x1="357.64" y1="432.6" x2="357.64" y2="436.8" stroke="#2a2a2a" stroke-width="1.4"/>
<text transform="translate(360.64,441.0) rotate(-90) scale(1,1.0)" fill="#2F9326" stroke="#2F9326" stroke-width="0.35" font-size="10.2" text-anchor="end">+</text>
<text transform="translate(360.64,448.0) rotate(-90) scale(1,1.0)" fill="#2F9326" stroke="#2F9326" stroke-width="0.35" font-size="9.3" text-anchor="end">5</text>
<line x1="371.97" y1="432.6" x2="371.97" y2="436.8" stroke="#2a2a2a" stroke-width="1.4"/>
<text transform="translate(374.97,441.4) rotate(-90) scale(1,1.0)" fill="#FABFA8" stroke="#FABFA8" stroke-width="0.35" font-size="9.3" text-anchor="end">1</text>
<line x1="384.08" y1="432.6" x2="384.08" y2="436.8" stroke="#2a2a2a" stroke-width="1.4"/>
<text transform="translate(387.08,441.4) rotate(-90) scale(1,1.0)" fill="#FABFA8" stroke="#FABFA8" stroke-width="0.35" font-size="9.3" text-anchor="end">2</text>
<line x1="396.19" y1="432.6" x2="396.19" y2="436.8" stroke="#2a2a2a" stroke-width="1.4"/>
<text transform="translate(399.19,441.4) rotate(-90) scale(1,1.0)" fill="#FABFA8" stroke="#FABFA8" stroke-width="0.35" font-size="9.3" text-anchor="end">3</text>
<line x1="408.30" y1="432.6" x2="408.30" y2="436.8" stroke="#2a2a2a" stroke-width="1.4"/>
<text transform="translate(411.30,441.4) rotate(-90) scale(1,1.0)" fill="#FABFA8" stroke="#FABFA8" stroke-width="0.35" font-size="9.3" text-anchor="end">4</text>
<line x1="420.41" y1="432.6" x2="420.41" y2="436.8" stroke="#2a2a2a" stroke-width="1.4"/>
<text transform="translate(423.41,441.4) rotate(-90) scale(1,1.0)" fill="#FABFA8" stroke="#FABFA8" stroke-width="0.35" font-size="9.3" text-anchor="end">5</text>
<line x1="432.52" y1="432.6" x2="432.52" y2="436.8" stroke="#2a2a2a" stroke-width="1.4"/>
<text transform="translate(435.52,441.0) rotate(-90) scale(1,1.0)" fill="#FABFA8" stroke="#FABFA8" stroke-width="0.35" font-size="10.2" text-anchor="end">+</text>
<text transform="translate(435.52,448.0) rotate(-90) scale(1,1.0)" fill="#FABFA8" stroke="#FABFA8" stroke-width="0.35" font-size="9.3" text-anchor="end">6</text>
<line x1="446.85" y1="432.6" x2="446.85" y2="436.8" stroke="#2a2a2a" stroke-width="1.4"/>
<text transform="translate(449.85,441.4) rotate(-90) scale(1,1.0)" fill="#F87457" stroke="#F87457" stroke-width="0.35" font-size="9.3" text-anchor="end">1</text>
<line x1="458.96" y1="432.6" x2="458.96" y2="436.8" stroke="#2a2a2a" stroke-width="1.4"/>
<text transform="translate(461.96,441.4) rotate(-90) scale(1,1.0)" fill="#F87457" stroke="#F87457" stroke-width="0.35" font-size="9.3" text-anchor="end">2</text>
<line x1="471.07" y1="432.6" x2="471.07" y2="436.8" stroke="#2a2a2a" stroke-width="1.4"/>
<text transform="translate(474.07,441.4) rotate(-90) scale(1,1.0)" fill="#F87457" stroke="#F87457" stroke-width="0.35" font-size="9.3" text-anchor="end">3</text>
<line x1="483.18" y1="432.6" x2="483.18" y2="436.8" stroke="#2a2a2a" stroke-width="1.4"/>
<text transform="translate(486.18,441.4) rotate(-90) scale(1,1.0)" fill="#F87457" stroke="#F87457" stroke-width="0.35" font-size="9.3" text-anchor="end">4</text>
<line x1="495.29" y1="432.6" x2="495.29" y2="436.8" stroke="#2a2a2a" stroke-width="1.4"/>
<text transform="translate(498.29,441.4) rotate(-90) scale(1,1.0)" fill="#F87457" stroke="#F87457" stroke-width="0.35" font-size="9.3" text-anchor="end">5</text>
<line x1="507.40" y1="432.6" x2="507.40" y2="436.8" stroke="#2a2a2a" stroke-width="1.4"/>
<text transform="translate(510.40,441.0) rotate(-90) scale(1,1.0)" fill="#F87457" stroke="#F87457" stroke-width="0.35" font-size="10.2" text-anchor="end">+</text>
<text transform="translate(510.40,448.0) rotate(-90) scale(1,1.0)" fill="#F87457" stroke="#F87457" stroke-width="0.35" font-size="9.3" text-anchor="end">6</text>
<line x1="521.73" y1="432.6" x2="521.73" y2="436.8" stroke="#2a2a2a" stroke-width="1.4"/>
<text transform="translate(524.73,441.4) rotate(-90) scale(1,1.0)" fill="#E82C27" stroke="#E82C27" stroke-width="0.35" font-size="9.3" text-anchor="end">1</text>
<line x1="533.84" y1="432.6" x2="533.84" y2="436.8" stroke="#2a2a2a" stroke-width="1.4"/>
<text transform="translate(536.84,441.4) rotate(-90) scale(1,1.0)" fill="#E82C27" stroke="#E82C27" stroke-width="0.35" font-size="9.3" text-anchor="end">2</text>
<line x1="545.95" y1="432.6" x2="545.95" y2="436.8" stroke="#2a2a2a" stroke-width="1.4"/>
<text transform="translate(548.95,441.4) rotate(-90) scale(1,1.0)" fill="#E82C27" stroke="#E82C27" stroke-width="0.35" font-size="9.3" text-anchor="end">3</text>
<line x1="558.06" y1="432.6" x2="558.06" y2="436.8" stroke="#2a2a2a" stroke-width="1.4"/>
<text transform="translate(561.06,441.4) rotate(-90) scale(1,1.0)" fill="#E82C27" stroke="#E82C27" stroke-width="0.35" font-size="9.3" text-anchor="end">4</text>
<line x1="570.17" y1="432.6" x2="570.17" y2="436.8" stroke="#2a2a2a" stroke-width="1.4"/>
<text transform="translate(573.17,441.4) rotate(-90) scale(1,1.0)" fill="#E82C27" stroke="#E82C27" stroke-width="0.35" font-size="9.3" text-anchor="end">5</text>
<line x1="582.28" y1="432.6" x2="582.28" y2="436.8" stroke="#2a2a2a" stroke-width="1.4"/>
<text transform="translate(585.28,441.0) rotate(-90) scale(1,1.0)" fill="#E82C27" stroke="#E82C27" stroke-width="0.35" font-size="10.2" text-anchor="end">+</text>
<text transform="translate(585.28,448.0) rotate(-90) scale(1,1.0)" fill="#E82C27" stroke="#E82C27" stroke-width="0.35" font-size="9.3" text-anchor="end">6</text>
<line x1="596.61" y1="432.6" x2="596.61" y2="436.8" stroke="#2a2a2a" stroke-width="1.4"/>
<text transform="translate(599.61,441.4) rotate(-90) scale(1,1.0)" fill="#AB0116" stroke="#AB0116" stroke-width="0.35" font-size="9.3" text-anchor="end">1</text>
<line x1="608.72" y1="432.6" x2="608.72" y2="436.8" stroke="#2a2a2a" stroke-width="1.4"/>
<text transform="translate(611.72,441.4) rotate(-90) scale(1,1.0)" fill="#AB0116" stroke="#AB0116" stroke-width="0.35" font-size="9.3" text-anchor="end">2</text>
<line x1="620.83" y1="432.6" x2="620.83" y2="436.8" stroke="#2a2a2a" stroke-width="1.4"/>
<text transform="translate(623.83,441.4) rotate(-90) scale(1,1.0)" fill="#AB0116" stroke="#AB0116" stroke-width="0.35" font-size="9.3" text-anchor="end">3</text>
<line x1="632.94" y1="432.6" x2="632.94" y2="436.8" stroke="#2a2a2a" stroke-width="1.4"/>
<text transform="translate(635.94,441.4) rotate(-90) scale(1,1.0)" fill="#AB0116" stroke="#AB0116" stroke-width="0.35" font-size="9.3" text-anchor="end">4</text>
<line x1="645.05" y1="432.6" x2="645.05" y2="436.8" stroke="#2a2a2a" stroke-width="1.4"/>
<text transform="translate(648.05,441.4) rotate(-90) scale(1,1.0)" fill="#AB0116" stroke="#AB0116" stroke-width="0.35" font-size="9.3" text-anchor="end">5</text>
<line x1="657.16" y1="432.6" x2="657.16" y2="436.8" stroke="#2a2a2a" stroke-width="1.4"/>
<text transform="translate(660.16,441.0) rotate(-90) scale(1,1.0)" fill="#AB0116" stroke="#AB0116" stroke-width="0.35" font-size="10.2" text-anchor="end">+</text>
<text transform="translate(660.16,448.0) rotate(-90) scale(1,1.0)" fill="#AB0116" stroke="#AB0116" stroke-width="0.35" font-size="9.3" text-anchor="end">6</text>
<line x1="671.49" y1="432.6" x2="671.49" y2="436.8" stroke="#2a2a2a" stroke-width="1.4"/>
<text transform="translate(674.49,441.4) rotate(-90) scale(1,1.0)" fill="#C6D9EE" stroke="#C6D9EE" stroke-width="0.35" font-size="9.3" text-anchor="end">0</text>
<line x1="683.60" y1="432.6" x2="683.60" y2="436.8" stroke="#2a2a2a" stroke-width="1.4"/>
<text transform="translate(686.60,441.4) rotate(-90) scale(1,1.0)" fill="#C6D9EE" stroke="#C6D9EE" stroke-width="0.35" font-size="9.3" text-anchor="end">1</text>
<line x1="695.71" y1="432.6" x2="695.71" y2="436.8" stroke="#2a2a2a" stroke-width="1.4"/>
<text transform="translate(698.71,441.4) rotate(-90) scale(1,1.0)" fill="#C6D9EE" stroke="#C6D9EE" stroke-width="0.35" font-size="9.3" text-anchor="end">2</text>
<line x1="707.82" y1="432.6" x2="707.82" y2="436.8" stroke="#2a2a2a" stroke-width="1.4"/>
<text transform="translate(710.82,441.4) rotate(-90) scale(1,1.0)" fill="#C6D9EE" stroke="#C6D9EE" stroke-width="0.35" font-size="9.3" text-anchor="end">3</text>
<line x1="719.93" y1="432.6" x2="719.93" y2="436.8" stroke="#2a2a2a" stroke-width="1.4"/>
<text transform="translate(722.93,441.4) rotate(-90) scale(1,1.0)" fill="#C6D9EE" stroke="#C6D9EE" stroke-width="0.35" font-size="9.3" text-anchor="end">4</text>
<line x1="732.04" y1="432.6" x2="732.04" y2="436.8" stroke="#2a2a2a" stroke-width="1.4"/>
<text transform="translate(735.04,441.0) rotate(-90) scale(1,1.0)" fill="#C6D9EE" stroke="#C6D9EE" stroke-width="0.35" font-size="10.2" text-anchor="end">+</text>
<text transform="translate(735.04,448.0) rotate(-90) scale(1,1.0)" fill="#C6D9EE" stroke="#C6D9EE" stroke-width="0.35" font-size="9.3" text-anchor="end">5</text>
<line x1="746.37" y1="432.6" x2="746.37" y2="436.8" stroke="#2a2a2a" stroke-width="1.4"/>
<text transform="translate(749.37,441.4) rotate(-90) scale(1,1.0)" fill="#82B5D7" stroke="#82B5D7" stroke-width="0.35" font-size="9.3" text-anchor="end">0</text>
<line x1="758.48" y1="432.6" x2="758.48" y2="436.8" stroke="#2a2a2a" stroke-width="1.4"/>
<text transform="translate(761.48,441.4) rotate(-90) scale(1,1.0)" fill="#82B5D7" stroke="#82B5D7" stroke-width="0.35" font-size="9.3" text-anchor="end">1</text>
<line x1="770.59" y1="432.6" x2="770.59" y2="436.8" stroke="#2a2a2a" stroke-width="1.4"/>
<text transform="translate(773.59,441.4) rotate(-90) scale(1,1.0)" fill="#82B5D7" stroke="#82B5D7" stroke-width="0.35" font-size="9.3" text-anchor="end">2</text>
<line x1="782.70" y1="432.6" x2="782.70" y2="436.8" stroke="#2a2a2a" stroke-width="1.4"/>
<text transform="translate(785.70,441.4) rotate(-90) scale(1,1.0)" fill="#82B5D7" stroke="#82B5D7" stroke-width="0.35" font-size="9.3" text-anchor="end">3</text>
<line x1="794.81" y1="432.6" x2="794.81" y2="436.8" stroke="#2a2a2a" stroke-width="1.4"/>
<text transform="translate(797.81,441.4) rotate(-90) scale(1,1.0)" fill="#82B5D7" stroke="#82B5D7" stroke-width="0.35" font-size="9.3" text-anchor="end">4</text>
<line x1="806.92" y1="432.6" x2="806.92" y2="436.8" stroke="#2a2a2a" stroke-width="1.4"/>
<text transform="translate(809.92,441.0) rotate(-90) scale(1,1.0)" fill="#82B5D7" stroke="#82B5D7" stroke-width="0.35" font-size="10.2" text-anchor="end">+</text>
<text transform="translate(809.92,448.0) rotate(-90) scale(1,1.0)" fill="#82B5D7" stroke="#82B5D7" stroke-width="0.35" font-size="9.3" text-anchor="end">5</text>
<line x1="821.25" y1="432.6" x2="821.25" y2="436.8" stroke="#2a2a2a" stroke-width="1.4"/>
<text transform="translate(824.25,441.4) rotate(-90) scale(1,1.0)" fill="#3E84BF" stroke="#3E84BF" stroke-width="0.35" font-size="9.3" text-anchor="end">0</text>
<line x1="833.36" y1="432.6" x2="833.36" y2="436.8" stroke="#2a2a2a" stroke-width="1.4"/>
<text transform="translate(836.36,441.4) rotate(-90) scale(1,1.0)" fill="#3E84BF" stroke="#3E84BF" stroke-width="0.35" font-size="9.3" text-anchor="end">1</text>
<line x1="845.47" y1="432.6" x2="845.47" y2="436.8" stroke="#2a2a2a" stroke-width="1.4"/>
<text transform="translate(848.47,441.4) rotate(-90) scale(1,1.0)" fill="#3E84BF" stroke="#3E84BF" stroke-width="0.35" font-size="9.3" text-anchor="end">2</text>
<line x1="857.58" y1="432.6" x2="857.58" y2="436.8" stroke="#2a2a2a" stroke-width="1.4"/>
<text transform="translate(860.58,441.4) rotate(-90) scale(1,1.0)" fill="#3E84BF" stroke="#3E84BF" stroke-width="0.35" font-size="9.3" text-anchor="end">3</text>
<line x1="869.69" y1="432.6" x2="869.69" y2="436.8" stroke="#2a2a2a" stroke-width="1.4"/>
<text transform="translate(872.69,441.4) rotate(-90) scale(1,1.0)" fill="#3E84BF" stroke="#3E84BF" stroke-width="0.35" font-size="9.3" text-anchor="end">4</text>
<line x1="881.80" y1="432.6" x2="881.80" y2="436.8" stroke="#2a2a2a" stroke-width="1.4"/>
<text transform="translate(884.80,441.0) rotate(-90) scale(1,1.0)" fill="#3E84BF" stroke="#3E84BF" stroke-width="0.35" font-size="10.2" text-anchor="end">+</text>
<text transform="translate(884.80,448.0) rotate(-90) scale(1,1.0)" fill="#3E84BF" stroke="#3E84BF" stroke-width="0.35" font-size="9.3" text-anchor="end">5</text>
<line x1="896.13" y1="432.6" x2="896.13" y2="436.8" stroke="#2a2a2a" stroke-width="1.4"/>
<text transform="translate(899.13,441.4) rotate(-90) scale(1,1.0)" fill="#154F99" stroke="#154F99" stroke-width="0.35" font-size="9.3" text-anchor="end">0</text>
<line x1="908.24" y1="432.6" x2="908.24" y2="436.8" stroke="#2a2a2a" stroke-width="1.4"/>
<text transform="translate(911.24,441.4) rotate(-90) scale(1,1.0)" fill="#154F99" stroke="#154F99" stroke-width="0.35" font-size="9.3" text-anchor="end">1</text>
<line x1="920.35" y1="432.6" x2="920.35" y2="436.8" stroke="#2a2a2a" stroke-width="1.4"/>
<text transform="translate(923.35,441.4) rotate(-90) scale(1,1.0)" fill="#154F99" stroke="#154F99" stroke-width="0.35" font-size="9.3" text-anchor="end">2</text>
<line x1="932.46" y1="432.6" x2="932.46" y2="436.8" stroke="#2a2a2a" stroke-width="1.4"/>
<text transform="translate(935.46,441.4) rotate(-90) scale(1,1.0)" fill="#154F99" stroke="#154F99" stroke-width="0.35" font-size="9.3" text-anchor="end">3</text>
<line x1="944.57" y1="432.6" x2="944.57" y2="436.8" stroke="#2a2a2a" stroke-width="1.4"/>
<text transform="translate(947.57,441.4) rotate(-90) scale(1,1.0)" fill="#154F99" stroke="#154F99" stroke-width="0.35" font-size="9.3" text-anchor="end">4</text>
<line x1="956.68" y1="432.6" x2="956.68" y2="436.8" stroke="#2a2a2a" stroke-width="1.4"/>
<text transform="translate(959.68,441.0) rotate(-90) scale(1,1.0)" fill="#154F99" stroke="#154F99" stroke-width="0.35" font-size="10.2" text-anchor="end">+</text>
<text transform="translate(959.68,448.0) rotate(-90) scale(1,1.0)" fill="#154F99" stroke="#154F99" stroke-width="0.35" font-size="9.3" text-anchor="end">5</text>
<line x1="971.01" y1="432.6" x2="971.01" y2="436.8" stroke="#2a2a2a" stroke-width="1.4"/>
<text transform="translate(974.01,441.4) rotate(-90) scale(1,1.0)" fill="#DADAEA" stroke="#DADAEA" stroke-width="0.35" font-size="9.3" text-anchor="end">1</text>
<line x1="985.34" y1="432.6" x2="985.34" y2="436.8" stroke="#2a2a2a" stroke-width="1.4"/>
<text transform="translate(988.34,441.4) rotate(-90) scale(1,1.0)" fill="#A8A8CF" stroke="#A8A8CF" stroke-width="0.35" font-size="9.3" text-anchor="end">1</text>
<line x1="997.45" y1="432.6" x2="997.45" y2="436.8" stroke="#2a2a2a" stroke-width="1.4"/>
<text transform="translate(1000.45,441.4) rotate(-90) scale(1,1.0)" fill="#A8A8CF" stroke="#A8A8CF" stroke-width="0.35" font-size="9.3" text-anchor="end">2</text>
<line x1="1011.78" y1="432.6" x2="1011.78" y2="436.8" stroke="#2a2a2a" stroke-width="1.4"/>
<text transform="translate(1014.78,441.4) rotate(-90) scale(1,1.0)" fill="#736CAF" stroke="#736CAF" stroke-width="0.35" font-size="9.3" text-anchor="end">1</text>
<line x1="1023.89" y1="432.6" x2="1023.89" y2="436.8" stroke="#2a2a2a" stroke-width="1.4"/>
<text transform="translate(1026.89,441.4) rotate(-90) scale(1,1.0)" fill="#736CAF" stroke="#736CAF" stroke-width="0.35" font-size="9.3" text-anchor="end">2</text>
<line x1="1036.00" y1="432.6" x2="1036.00" y2="436.8" stroke="#2a2a2a" stroke-width="1.4"/>
<text transform="translate(1039.00,441.4) rotate(-90) scale(1,1.0)" fill="#736CAF" stroke="#736CAF" stroke-width="0.35" font-size="9.3" text-anchor="end">3</text>
<line x1="1050.33" y1="432.6" x2="1050.33" y2="436.8" stroke="#2a2a2a" stroke-width="1.4"/>
<text transform="translate(1053.33,441.4) rotate(-90) scale(1,1.0)" fill="#4D2B88" stroke="#4D2B88" stroke-width="0.35" font-size="9.3" text-anchor="end">1</text>
<line x1="1062.44" y1="432.6" x2="1062.44" y2="436.8" stroke="#2a2a2a" stroke-width="1.4"/>
<text transform="translate(1065.44,441.4) rotate(-90) scale(1,1.0)" fill="#4D2B88" stroke="#4D2B88" stroke-width="0.35" font-size="9.3" text-anchor="end">2</text>
<line x1="1074.55" y1="432.6" x2="1074.55" y2="436.8" stroke="#2a2a2a" stroke-width="1.4"/>
<text transform="translate(1077.55,441.4) rotate(-90) scale(1,1.0)" fill="#4D2B88" stroke="#4D2B88" stroke-width="0.35" font-size="9.3" text-anchor="end">3</text>
<line x1="1086.66" y1="432.6" x2="1086.66" y2="436.8" stroke="#2a2a2a" stroke-width="1.4"/>
<text transform="translate(1089.66,441.4) rotate(-90) scale(1,1.0)" fill="#4D2B88" stroke="#4D2B88" stroke-width="0.35" font-size="9.3" text-anchor="end">4</text>
<line x1="1098.77" y1="432.6" x2="1098.77" y2="436.8" stroke="#2a2a2a" stroke-width="1.4"/>
<text transform="translate(1101.77,441.0) rotate(-90) scale(1,1.0)" fill="#4D2B88" stroke="#4D2B88" stroke-width="0.35" font-size="10.2" text-anchor="end">+</text>
<text transform="translate(1101.77,448.0) rotate(-90) scale(1,1.0)" fill="#4D2B88" stroke="#4D2B88" stroke-width="0.35" font-size="9.3" text-anchor="end">5</text>
<text x="585.61" y="468.6" fill="#000" font-size="16" text-anchor="middle">Components</text>
<text transform="translate(19.6,233.3) rotate(-90)" fill="#000" font-size="16" text-anchor="middle">Contributions</text>
</svg></body></html>
